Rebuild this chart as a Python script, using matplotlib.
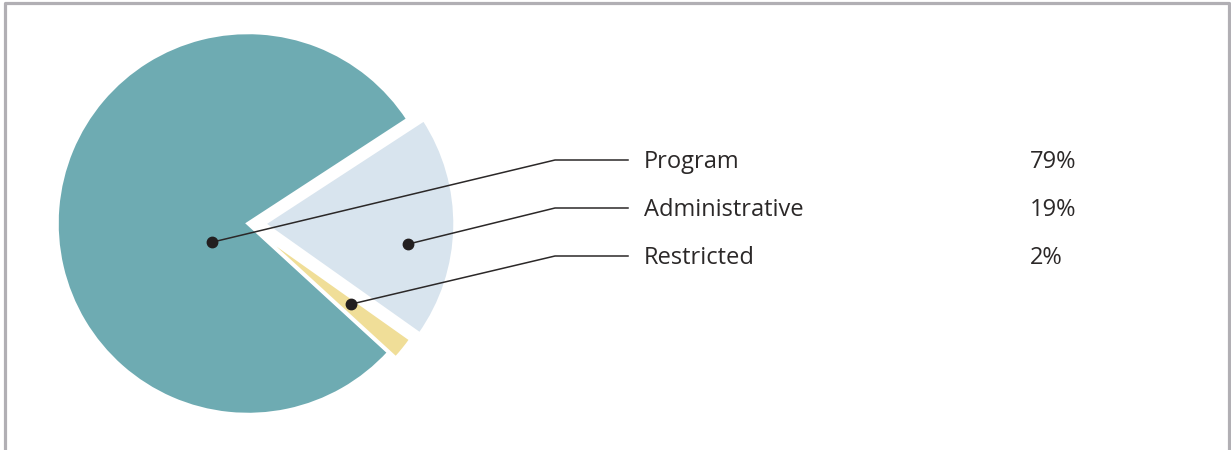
import numpy as np
import matplotlib.pyplot as plt
from matplotlib.lines import Line2D

# Dados
categorias = ['Program', 'Administrative', 'Restricted']
valores = [79, 19, 2]
rotulos_pct = ['79%', '19%', '2%']
cores = ['#6eabb2', '#d8e4ee', '#f0de98']
explode_px = [0, 16, 9]           # deslocamento de cada fatia (px)
ancora_ang_off = [32, -7, 1]      # deslocamento do ponto em relação ao meio da fatia (graus)
ancora_raio = [41, 145, 122]      # distância do ponto ao centro da fatia (px)

W, H = 1231, 450
centro = (248, H - 223.5)
raio = 191
inicio = -42.5

fig = plt.figure(figsize=(W / 100, H / 100), dpi=100)
ax = fig.add_axes([0, 0, 1, 1])

# explode em unidades de dados (px aqui)
wedges, _ = ax.pie(valores, colors=cores, startangle=inicio, counterclock=False,
                   radius=raio, center=centro, explode=explode_px,
                   wedgeprops=dict(edgecolor='white', linewidth=2.5, joinstyle='miter'),
                   frame=True)
ax.set_xlim(0, W)
ax.set_ylim(0, H)
ax.set_aspect('equal')
ax.axis('off')

cor_texto = '#2b2828'
ys = [160, 208, 256]
for i, w in enumerate(wedges):
    meio = np.deg2rad((w.theta1 + w.theta2) / 2)
    cx = centro[0] + explode_px[i] * np.cos(meio)
    cy = centro[1] + explode_px[i] * np.sin(meio)
    a = meio + np.deg2rad(ancora_ang_off[i])
    px = cx + ancora_raio[i] * np.cos(a)
    py = cy + ancora_raio[i] * np.sin(a)
    yl = H - ys[i]
    ax.plot([px, 555, 628], [py, yl, yl], color=cor_texto, lw=1.1, zorder=5)
    ax.plot(px, py, 'o', color='#231f20', ms=7.5, zorder=6)
    ax.text(644, yl - 8, categorias[i], fontsize=17, family='Open Sans',
            color=cor_texto, va='baseline', ha='left')
    ax.text(1030, yl - 8, rotulos_pct[i], fontsize=17, family='Open Sans',
            color=cor_texto, va='baseline', ha='left')

# Moldura (sem a borda inferior)
cor_borda = '#b1afb4'
fig.add_artist(Line2D([5 / W, 5 / W, 1229 / W, 1229 / W],
                      [0, 1 - 2.5 / H, 1 - 2.5 / H, 0],
                      color=cor_borda, lw=2.3, transform=fig.transFigure))

plt.savefig('out.png', dpi=100)
